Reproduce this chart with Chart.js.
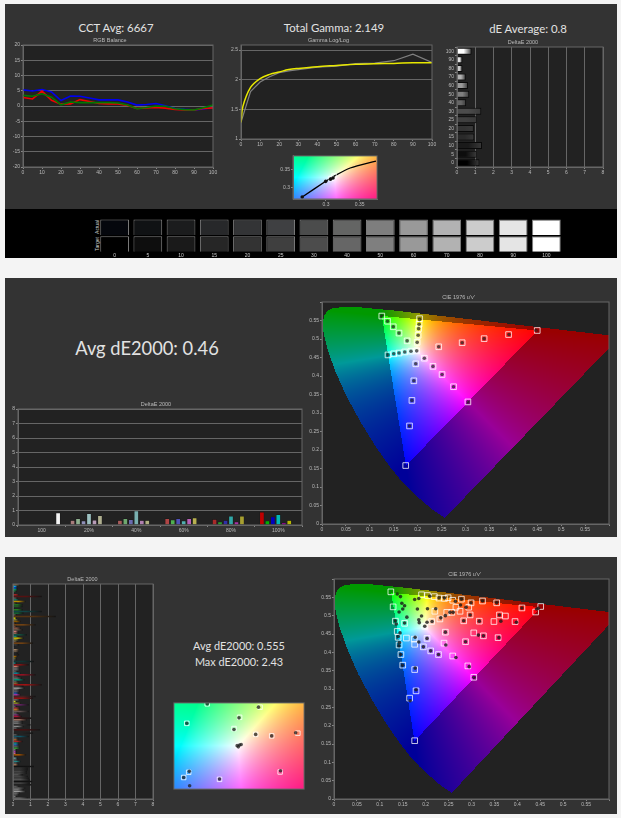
<!DOCTYPE html>
<html>
<head>
<meta charset="utf-8">
<title>Display calibration report</title>
<script src="https://cdn.jsdelivr.net/npm/chart.js@4"></script>
<style>
  html, body { margin: 0; padding: 0; background: #f4f4f4; width: 621px; height: 818px; overflow: hidden; }
  .panel { position: absolute; left: 5px; width: 612px; background: #333; }
  canvas { position: absolute; filter: blur(0.3px); }
  .big { position: absolute; transform: translate(-50%, -50%); white-space: nowrap; color: #e2e2e2; font-family: Lato, sans-serif; }
  .rowlabel { position: absolute; transform: translate(-50%, -50%) rotate(-90deg); color: #ccc; font: 5px "Liberation Sans", sans-serif; }
</style>
</head>
<body>
<div class="panel" style="top:4px;height:205px"></div>
<div class="panel" style="top:209px;height:49px;background:#000"></div>
<div class="panel" style="top:278px;height:259px"></div>
<div class="panel" style="top:557px;height:257px"></div>

<div class="big" style="left:116px;top:27px;font-size:11.4px">CCT Avg: 6667</div>
<div class="big" style="left:334px;top:27px;font-size:11.4px">Total Gamma: 2.149</div>
<div class="big" style="left:528px;top:28px;font-size:11.4px">dE Average: 0.8</div>
<div class="big" style="left:147px;top:348px;font-size:18.3px">Avg dE2000: 0.46</div>
<div class="big" style="left:239px;top:645px;font-size:10.9px">Avg dE2000: 0.555</div>
<div class="big" style="left:239px;top:661px;font-size:10.9px">Max dE2000: 2.43</div>
<div class="rowlabel" style="left:97px;top:227px">Actual</div>
<div class="rowlabel" style="left:97px;top:244px">Target</div>

<script>
// RGB balance
const rgbPct = [0, 5, 10, 15, 20, 25, 30, 35, 40, 45, 50, 55, 60, 65, 70, 75, 80, 85, 90, 95, 100];
const rgbBlue = [5.3, 4.9, 5.4, 4.6, 1.8, 3.3, 3.2, 2.6, 2.0, 2.0, 2.0, 1.3, 0.3, 0.5, 0.8, 0.1, -0.8, -1.1, -1.3, -1.0, -0.5];
const rgbRed = [2.8, 2.3, 4.9, 1.9, 0.6, 0.7, 2.1, 1.5, 0.8, 0.7, 0.7, 0.2, -0.8, -0.6, -0.5, -0.7, -1.1, -1.3, -1.3, -0.8, -0.6];
const rgbGreen = [3.5, 3.2, 4.0, 2.9, 0.4, 1.3, 1.1, 1.1, 1.1, 1.1, 1.0, 0.3, -0.9, -0.5, 0, -0.1, -0.9, -1.2, -1.3, -0.6, 0.3];

// gamma
const gammaPct = [0, 5, 10, 15, 20, 25, 30, 40, 50, 60, 70, 80, 90, 100];
const gammaMeasured = [1.28, 1.8, 1.96, 2.05, 2.12, 2.15, 2.17, 2.21, 2.23, 2.27, 2.28, 2.32, 2.43, 2.29];
const gammaTargetPct = [0, 1, 5, 10, 15, 20, 25, 30, 40, 50, 60, 70, 80, 90, 100];
const gammaTarget = [1.28, 1.55, 1.87, 2.02, 2.09, 2.13, 2.17, 2.19, 2.22, 2.24, 2.26, 2.27, 2.275, 2.285, 2.285];

// grayscale deltaE
const grayLabels = ['100', '90', '80', '70', '60', '50', '40', '30', '25', '20', '15', '10', '5', '0'];
const grayDelta = [0.8, 0.3, 0.3, 0.48, 0.6, 0.67, 0.5, 1.33, 1.07, 0.92, 0.95, 1.37, 1.07, 1.23];
const grayBarColors = ['#ffffff', '#e5e5e5', '#cccccc', '#b2b2b2', '#999999', '#808080', '#666666', '#4c4c4c', '#404040', '#333333', '#2a2a2a', '#1a1a1a', '#0d0d0d', '#000000'];

// mini xy plot, top panel
const planckX = [0.2647, 0.2996, 0.31, 0.336, 0.3743];
const planckY = [0.2737, 0.3176, 0.3298, 0.355, 0.3745];
const mini1TargetX = [0.3119, 0.3076];
const mini1TargetY = [0.3324, 0.3255];
const mini1ActualX = [0.2996, 0.2647, 0.3067, 0.3105];
const mini1ActualY = [0.3176, 0.2737, 0.3237, 0.3271];

// grayscale swatches
const swatchLabels = ['0', '5', '10', '15', '20', '25', '30', '40', '50', '60', '70', '80', '90', '100'];
const swatchActual = ['#05070d', '#101214', '#1b1c1d', '#27282a', '#333436', '#3f4042', '#4b4c4c', '#646564', '#7e7e7e', '#999999', '#b2b2b3', '#cccccc', '#e5e5e5', '#ffffff'];
const swatchTarget = ['#000000', '#0e0e0e', '#1a1a1a', '#262626', '#333333', '#3f3f3f', '#4c4c4c', '#666666', '#7f7f7f', '#999999', '#b2b2b2', '#cccccc', '#e5e5e5', '#ffffff'];

// saturation sweep deltaE
const satLabels = ['100', '20%', '40%', '60%', '80%', '100%'];
const satRed = [null, 0.33, 0.33, 0.45, 0.4, 0.9];
const satGreen = [null, 0.45, 0.45, 0.37, 0.22, 0.3];
const satBlue = [null, 0.3, 0.38, 0.45, 0.33, 0.57];
const satCyan = [null, 0.8, 0.98, 0.3, 0.62, 0.72];
const satMagenta = [null, 0.35, 0.33, 0.45, 0.22, 0.15];
const satYellow = [null, 0.65, 0.33, 0.5, 0.62, 0.32];
const satWhite = [0.85, null, null, null, null, null];
const redShades = ['#000', '#a87c7c', '#a85a5a', '#b04545', '#a82a2a', '#c00000'];
const greenShades = ['#000', '#8fb08f', '#6fa86f', '#50b050', '#28a028', '#00b000'];
const blueShades = ['#000', '#8f8fb8', '#6a6ab0', '#5050b8', '#3030a8', '#0000c0'];
const cyanShades = ['#000', '#9cc0c0', '#7ab0b0', '#50b0b0', '#30a8a8', '#00b8b8'];
const magentaShades = ['#000', '#b89cb8', '#b07fb0', '#b860b8', '#a830a8', '#a800a8'];
const yellowShades = ['#000', '#b0b090', '#b0b07f', '#b8b050', '#a8a030', '#b8b800'];

// u'v' outline of the diagram
const locusU = [0.2568, 0.2347, 0.2161, 0.1877, 0.169, 0.1441, 0.1147, 0.0828, 0.0521, 0.0282, 0.0119, 0.0035, 0.0014, 0.0046, 0.0123, 0.0231, 0.0501, 0.0792, 0.1531, 0.2623, 0.4035, 0.5203, 0.6234];
const locusV = [0.0166, 0.035, 0.0549, 0.0871, 0.1119, 0.151, 0.2044, 0.2708, 0.3427, 0.4117, 0.4698, 0.5131, 0.5432, 0.5638, 0.577, 0.5837, 0.5868, 0.5856, 0.5766, 0.5604, 0.5393, 0.5219, 0.5065];

// saturation sweep gamut points
const sweepTargetU = [0.125, 0.137, 0.149, 0.161, 0.178, 0.204, 0.203, 0.202, 0.201, 0.199, 0.138, 0.150, 0.161, 0.173, 0.186, 0.198, 0.45, 0.39, 0.339, 0.293, 0.244, 0.305, 0.275, 0.251, 0.232, 0.214, 0.175, 0.183, 0.188, 0.192, 0.196];
const sweepTargetV = [0.562, 0.548, 0.533, 0.516, 0.495, 0.555, 0.540, 0.528, 0.510, 0.491, 0.457, 0.460, 0.462, 0.465, 0.467, 0.468, 0.523, 0.512, 0.501, 0.490, 0.479, 0.330, 0.371, 0.404, 0.426, 0.448, 0.158, 0.265, 0.334, 0.387, 0.433];
const sweepActualU = [0.125, 0.137, 0.149, 0.161, 0.178, 0.204, 0.203, 0.202, 0.201, 0.199, 0.138, 0.150, 0.161, 0.173, 0.186, 0.198, 0.447, 0.391, 0.339, 0.293, 0.244, 0.305, 0.275, 0.251, 0.232, 0.214, 0.183, 0.188, 0.192, 0.196];
const sweepActualV = [0.562, 0.548, 0.533, 0.516, 0.495, 0.553, 0.540, 0.528, 0.510, 0.491, 0.457, 0.460, 0.462, 0.465, 0.467, 0.468, 0.523, 0.512, 0.501, 0.490, 0.479, 0.330, 0.371, 0.404, 0.426, 0.448, 0.265, 0.334, 0.387, 0.433];

// colorchecker deltaE rows
const checkerDelta = [0.4, 0.25, 0.25, 0.25, 0.2, 0.1, 0.35, 1.65, 0.25, 0.35, 0.72, 0.2, 0.55, 0.55, 0.1, 0.55, 1.65, 0.6, 0.2, 2.45, 0.2, 0.3, 0.45, 0.15, 1.3, 0.2, 0.45, 0.55, 0.3, 0.3, 0.8, 0.3, 0.6, 0.35, 0.25, 1.15, 0.35, 0.1, 0.1, 0.35, 0.35, 0.3, 0.35, 0.25, 0.2, 0.2, 1.2, 0.2, 0.9, 0.4, 0.4, 0.4, 0.25, 0.45, 1.3, 0.35, 0.5, 0.65, 0.3, 0.35, 1.65, 0.6, 0.65, 0.4, 0.4, 0.35, 0.45, 1.3, 1.15, 0.4, 0.2, 0.45, 0.9, 0.2, 0.4, 0.4, 0.9, 0.3, 0.4, 0.5, 1.05, 0.8, 0.55, 0.55, 1.0, 0.6, 0.3, 1.55, 0.1, 1.15, 0.3, 0.9, 0.3, 0.3, 0.55, 0.35, 0.35, 0.4, 0.4, 0.2, 0.2, 0.2, 0.75, 0.1, 0.25, 0.3, 0.45, 0.3, 0.3, 1.2, 0.85, 0.85, 0.8, 0.8, 0.55, 0.85, 0.9, 0.95, 1.1, 0.95, 1.05, 0.35, 0.7, 0.6, 0.75, 0.4, 0.35, 0.2, 0.85];
const checkerColors = ['#776644', '#00aaff', '#0055cc', '#00aa55', '#225533', '#333333', '#aa2222', '#551111', '#555555', '#117766', '#bb8800', '#444422', '#227722', '#225522', '#333333', '#228822', '#114444', '#116633', '#555544', '#553311', '#cccc00', '#888833', '#885500', '#443322', '#774411', '#664433', '#885544', '#665544', '#cc7777', '#996655', '#115544', '#118877', '#ccbb00', '#888833', '#665544', '#774411', '#333333', '#333333', '#444444', '#aa8866', '#665544', '#222222', '#222222', '#aa6600', '#666622', '#444444', '#113333', '#117777', '#881111', '#cc7766', '#666666', '#666666', '#555555', '#118899', '#991122', '#444444', '#666666', '#009977', '#555555', '#886633', '#aa1111', '#333333', '#999999', '#666666', '#555566', '#2255aa', '#aa33aa', '#442222', '#991111', '#666666', '#cccc22', '#888822', '#662266', '#555555', '#aa3333', '#bb7722', '#665555', '#555555', '#773377', '#aa1133', '#331111', '#aa7766', '#666666', '#777777', '#333333', '#888888', '#555555', '#441111', '#555555', '#222222', '#555555', '#115566', '#555555', '#aa6622', '#aa2222', '#118888', '#2266bb', '#555555', '#339933', '#777777', '#aa33aa', '#cc6699', '#aa5500', '#555555', '#669999', '#555555', '#228888', '#555555', '#aa7755', '#111111', '#333333', '#333333', '#444444', '#444444', '#555555', '#444444', '#444444', '#555555', '#111111', '#444444', '#222222', '#555555', '#666666', '#777777', '#999999', '#666666', '#555555', '#777777', '#666666'];

// colorchecker gamut points
const checkerTargetU = [0.124, 0.129, 0.134, 0.138, 0.140, 0.142, 0.146, 0.150, 0.176, 0.179, 0.165, 0.176, 0.191, 0.204, 0.219, 0.229, 0.241, 0.249, 0.259, 0.278, 0.299, 0.324, 0.355, 0.410, 0.451, 0.440, 0.374, 0.361, 0.297, 0.275, 0.266, 0.294, 0.220, 0.154, 0.158, 0.175, 0.176, 0.195, 0.211, 0.228, 0.259, 0.292, 0.305, 0.240, 0.203, 0.243, 0.287, 0.305, 0.326, 0.358, 0.349, 0.395, 0.317, 0.283, 0.213, 0.231, 0.246, 0.257, 0.198];
const checkerTargetV = [0.565, 0.524, 0.485, 0.457, 0.441, 0.420, 0.394, 0.365, 0.353, 0.295, 0.275, 0.159, 0.557, 0.555, 0.552, 0.548, 0.547, 0.549, 0.542, 0.545, 0.535, 0.540, 0.535, 0.521, 0.525, 0.510, 0.499, 0.502, 0.502, 0.512, 0.523, 0.523, 0.512, 0.479, 0.439, 0.436, 0.422, 0.415, 0.404, 0.394, 0.390, 0.363, 0.332, 0.425, 0.438, 0.455, 0.429, 0.453, 0.445, 0.440, 0.484, 0.484, 0.485, 0.486, 0.484, 0.491, 0.509, 0.509, 0.471];
const checkerActualU = [0.138, 0.145, 0.148, 0.154, 0.150, 0.142, 0.134, 0.136, 0.144, 0.140, 0.143, 0.142, 0.146, 0.150, 0.177, 0.179, 0.166, 0.182, 0.176, 0.185, 0.204, 0.209, 0.229, 0.241, 0.265, 0.278, 0.299, 0.276, 0.288, 0.324, 0.355, 0.410, 0.442, 0.446, 0.361, 0.364, 0.398, 0.317, 0.283, 0.297, 0.315, 0.326, 0.360, 0.287, 0.244, 0.266, 0.295, 0.305, 0.185, 0.211, 0.228, 0.195, 0.203, 0.177, 0.243, 0.214, 0.203, 0.191, 0.185, 0.186, 0.154, 0.159, 0.233, 0.243, 0.253, 0.260, 0.222, 0.198];
const checkerActualV = [0.559, 0.552, 0.534, 0.527, 0.518, 0.510, 0.486, 0.477, 0.453, 0.443, 0.427, 0.418, 0.394, 0.365, 0.357, 0.298, 0.268, 0.518, 0.544, 0.547, 0.519, 0.553, 0.548, 0.548, 0.539, 0.545, 0.535, 0.529, 0.523, 0.540, 0.535, 0.521, 0.518, 0.520, 0.502, 0.485, 0.482, 0.485, 0.486, 0.502, 0.447, 0.445, 0.440, 0.429, 0.420, 0.386, 0.361, 0.332, 0.428, 0.404, 0.394, 0.415, 0.438, 0.441, 0.455, 0.484, 0.482, 0.499, 0.489, 0.481, 0.480, 0.496, 0.494, 0.500, 0.509, 0.509, 0.519, 0.471];

// mini xy plot, bottom panel
const mini3TargetX = [0.2634, 0.283, 0.3337, 0.3141, 0.3087, 0.3295, 0.3449, 0.37, 0.353, 0.2948, 0.2652, 0.2604, 0.3122];
const mini3TargetY = [0.3603, 0.3877, 0.383, 0.3688, 0.353, 0.3448, 0.3427, 0.3465, 0.292, 0.2817, 0.2916, 0.2843, 0.329];
const mini3ActualX = [0.2634, 0.283, 0.3322, 0.3135, 0.3087, 0.3295, 0.3449, 0.3679, 0.3534, 0.2948, 0.2658, 0.2604, 0.2661, 0.3117, 0.3141, 0.3156, 0.3129];
const mini3ActualY = [0.3603, 0.3877, 0.383, 0.368, 0.3517, 0.3448, 0.3427, 0.347, 0.2937, 0.2822, 0.2929, 0.2843, 0.2727, 0.329, 0.3298, 0.3307, 0.3273];

const TICK_FONT = { family: '"Liberation Sans", sans-serif', size: 5 };
const TICK_COLOR = '#bbbbbb';
const LINE_COLOR = '#666666';
const TITLE_SIZE = 5.5;

Chart.defaults.animation = false;
Chart.defaults.responsive = false;
Chart.defaults.plugins.legend.display = false;
Chart.defaults.plugins.tooltip.enabled = false;

// plot background and frame, same for every chart
Chart.register({
  id: 'plotFrame',
  beforeDraw(chart) {
    const a = chart.chartArea, c = chart.ctx;
    c.save();
    c.fillStyle = '#222222';
    c.fillRect(a.left, a.top, a.width, a.height);
    c.restore();
  },
  afterDatasetsDraw(chart) {
    const a = chart.chartArea, c = chart.ctx;
    c.save();
    c.strokeStyle = LINE_COLOR;
    c.lineWidth = 1;
    c.strokeRect(a.left, a.top, a.width, a.height);
    c.restore();
  }
});

const zip = (xs, ys) => xs.map((x, i) => ({ x, y: ys[i] }));
const trim = v => String(+Number(v).toFixed(2));

// canvas placed so that the plot area lands on the rectangle l,t,r,b
function makeChart(rect, m, config) {
  const el = document.createElement('canvas');
  el.width = rect.r - rect.l + m.l + m.r;
  el.height = rect.b - rect.t + m.t + m.b;
  el.style.left = (rect.l - m.l) + 'px';
  el.style.top = (rect.t - m.t) + 'px';
  document.body.appendChild(el);
  const opts = config.options;
  const titleH = opts.plugins && opts.plugins.title ? TITLE_SIZE * 1.2 + 1 : 0;
  opts.layout = { padding: { left: 0, right: m.r, top: m.t - titleH, bottom: 0 } };
  new Chart(el.getContext('2d'), config);
}

function titleOf(text) {
  return { display: true, text, color: '#bbbbbb', padding: { top: 0, bottom: 1 }, font: { family: TICK_FONT.family, size: TITLE_SIZE, weight: 'normal' } };
}

function axis(size, extra) {
  const horizontal = extra.horizontal;
  delete extra.horizontal;
  return Object.assign({
    afterFit(s) {
      if (horizontal) { s.height = size; s.paddingLeft = 0; s.paddingRight = 0; }
      else { s.width = size; s.paddingTop = 0; s.paddingBottom = 0; }
    },
    border: { color: LINE_COLOR },
    grid: { color: LINE_COLOR, drawOnChartArea: false, tickLength: 2, tickColor: '#888888' },
    ticks: { color: TICK_COLOR, font: TICK_FONT, padding: 1, autoSkip: false, maxRotation: 0 }
  }, extra);
}

function gridLines() {
  return { color: LINE_COLOR, lineWidth: 1, drawOnChartArea: true, tickLength: 2, tickColor: '#888888' };
}

function ticksWith(extra) {
  return Object.assign({ color: TICK_COLOR, font: TICK_FONT, padding: 1, autoSkip: false, maxRotation: 0 }, extra);
}

// xy chromaticity to a display colour, out of gamut gets dimmed
function chromaColor(x, y, boost, dim, power) {
  if (boost !== 1) {
    x = 0.3127 + (x - 0.3127) * boost;
    y = 0.329 + (y - 0.329) * boost;
  }
  const X = x / y, Z = (1 - x - y) / y;
  const r = 3.2406 * X - 1.5372 - 0.4986 * Z;
  const g = -0.9689 * X + 1.8758 + 0.0415 * Z;
  const b = 0.0557 * X - 0.204 + 1.057 * Z;
  const out = r < 0 || g < 0 || b < 0;
  const rr = Math.max(r, 0), gg = Math.max(g, 0), bb = Math.max(b, 0);
  const top = Math.max(rr, gg, bb) || 1;
  const k = out && dim ? 0.6 : 1;
  return [rr, gg, bb].map(c => 255 * k * Math.pow(c / top, power));
}

function insidePolygon(px, py, xs, ys) {
  let hit = false;
  for (let i = 0, j = xs.length - 1; i < xs.length; j = i++) {
    if ((ys[i] > py) !== (ys[j] > py) && px < (xs[j] - xs[i]) * (py - ys[i]) / (ys[j] - ys[i]) + xs[i]) hit = !hit;
  }
  return hit;
}

// paints the colour background per pixel through the chart's own scales
function colorField(kind) {
  return {
    id: 'colorField' + kind,
    beforeDraw(chart) {
      const a = chart.chartArea, sx = chart.scales.x, sy = chart.scales.y;
      const w = Math.round(a.width), h = Math.round(a.height);
      const off = document.createElement('canvas');
      off.width = w; off.height = h;
      const oc = off.getContext('2d');
      const img = oc.createImageData(w, h);
      for (let j = 0; j < h; j++) {
        const vy = sy.getValueForPixel(a.top + j + 0.5);
        for (let i = 0; i < w; i++) {
          const ux = sx.getValueForPixel(a.left + i + 0.5);
          let rgb;
          if (kind === 'uv') {
            if (!insidePolygon(ux, vy, locusU, locusV)) continue;
            const d = 6 * ux - 16 * vy + 12;
            rgb = chromaColor(9 * ux / d, 4 * vy / d, 1, true, 0.85);
          } else {
            rgb = chromaColor(ux, vy, 1.6, false, 0.8);
          }
          const p = (j * w + i) * 4;
          img.data[p] = rgb[0]; img.data[p + 1] = rgb[1]; img.data[p + 2] = rgb[2]; img.data[p + 3] = 255;
        }
      }
      oc.putImageData(img, 0, 0);
      chart.ctx.drawImage(off, a.left, a.top);
    }
  };
}

// bar colour holding, then fading towards its far end along the value axis
function fadeBar(colors, values, endColor) {
  return ctx => {
    const i = ctx.dataIndex;
    if (i === undefined || !ctx.chart.chartArea) return colors[0];
    const sx = ctx.chart.scales.x;
    const g = ctx.chart.ctx.createLinearGradient(sx.getPixelForValue(0), 0, sx.getPixelForValue(values[i]), 0);
    g.addColorStop(0, colors[i]);
    g.addColorStop(0.45, colors[i]);
    g.addColorStop(1, endColor);
    return g;
  };
}

function targetSet(data, radius) {
  return { data, showLine: false, pointStyle: 'rect', pointRadius: radius, pointBorderWidth: 0.9, pointBorderColor: 'rgba(255,255,255,0.85)', pointBackgroundColor: 'rgba(0,0,0,0)' };
}
function actualSet(data, radius, fill) {
  return { data, showLine: false, pointStyle: 'circle', pointRadius: radius, pointBorderWidth: 0, pointBackgroundColor: fill };
}

// top row: RGB balance
makeChart({ l: 23, t: 45, r: 213, b: 167 }, { l: 16, t: 10, r: 6, b: 10 }, {
  type: 'scatter',
  data: { datasets: [
    { data: zip(rgbPct, rgbGreen), showLine: true, borderColor: '#007a00', borderWidth: 1.6, pointRadius: 0 },
    { data: zip(rgbPct, rgbRed), showLine: true, borderColor: '#f00000', borderWidth: 1.6, pointRadius: 0 },
    { data: zip(rgbPct, rgbBlue), showLine: true, borderColor: '#0000f0', borderWidth: 1.6, pointRadius: 0 }
  ] },
  options: {
    plugins: { title: titleOf('RGB Balance') },
    scales: {
      x: axis(10, { horizontal: true, min: 0, max: 100, ticks: ticksWith({ stepSize: 10 }) }),
      y: axis(16, { min: -20, max: 20, grid: gridLines(), ticks: ticksWith({ stepSize: 5 }) })
    }
  }
});

// top row: gamma
makeChart({ l: 241, t: 45, r: 432, b: 139 }, { l: 16, t: 10, r: 6, b: 10 }, {
  type: 'scatter',
  data: { datasets: [
    { data: zip(gammaTargetPct, gammaTarget), showLine: true, borderColor: '#e8e800', borderWidth: 1.5, pointRadius: 0, tension: 0.35 },
    { data: zip(gammaPct, gammaMeasured), showLine: true, borderColor: '#808080', borderWidth: 1.2, pointRadius: 0 }
  ] },
  options: {
    plugins: { title: titleOf('Gamma Log/Log') },
    scales: {
      x: axis(10, { horizontal: true, min: 0, max: 100, ticks: ticksWith({ stepSize: 10 }) }),
      y: axis(16, { min: 1, max: 2.585, grid: gridLines(), ticks: ticksWith({ stepSize: 0.5, includeBounds: false, callback: trim }) })
    }
  }
});

// top row: grayscale deltaE
makeChart({ l: 457, t: 47, r: 603, b: 167 }, { l: 14, t: 10, r: 6, b: 10 }, {
  type: 'bar',
  data: { labels: grayLabels, datasets: [
    { data: grayDelta, backgroundColor: fadeBar(grayBarColors, grayDelta, '#3a3a3a'), borderColor: '#0a0a0a', borderWidth: 1, barPercentage: 0.82, categoryPercentage: 1 }
  ] },
  options: {
    indexAxis: 'y',
    plugins: { title: titleOf('DeltaE 2000') },
    scales: {
      x: axis(10, { horizontal: true, min: 0, max: 8, grid: gridLines(), ticks: ticksWith({ stepSize: 1 }) }),
      y: axis(14, {})
    }
  }
});

// top row: small xy plot
makeChart({ l: 293, t: 153, r: 380, b: 199 }, { l: 16, t: 2, r: 2, b: 9 }, {
  type: 'scatter',
  plugins: [colorField('xy')],
  data: { datasets: [
    actualSet(zip(mini1ActualX, mini1ActualY), 1.8, '#111111'),
    targetSet(zip(mini1TargetX, mini1TargetY), 3.2),
    { data: zip(planckX, planckY), showLine: true, borderColor: '#000000', borderWidth: 1.3, pointRadius: 0, tension: 0.3 }
  ] },
  options: {
    scales: {
      x: axis(9, { horizontal: true, min: 0.251, max: 0.376, ticks: ticksWith({ stepSize: 0.05, includeBounds: false, callback: trim }) }),
      y: axis(16, { min: 0.268, max: 0.389, ticks: ticksWith({ stepSize: 0.05, includeBounds: false, callback: trim }) })
    }
  }
});

// grayscale swatches, two rows of floating bars
makeChart({ l: 98, t: 219, r: 563, b: 252 }, { l: 1, t: 1, r: 1, b: 8 }, {
  type: 'bar',
  data: { labels: swatchLabels, datasets: [
    { data: swatchActual.map(() => [1.03, 1.97]), backgroundColor: swatchActual, borderColor: '#808080', borderWidth: 1, barPercentage: 0.865, categoryPercentage: 1, grouped: false },
    { data: swatchTarget.map(() => [0.02, 0.96]), backgroundColor: swatchTarget, borderColor: '#808080', borderWidth: 1, barPercentage: 0.865, categoryPercentage: 1, grouped: false }
  ] },
  options: {
    plugins: { plotFrame: false },
    scales: {
      x: axis(8, { horizontal: true, border: { color: '#000000' }, grid: { color: '#000000', drawOnChartArea: false, tickLength: 1, tickColor: '#000000' }, ticks: ticksWith({ color: '#cccccc', padding: 0 }) }),
      y: { display: false, min: 0, max: 2, afterFit(s) { s.width = 1; s.paddingTop = 0; s.paddingBottom = 0; } }
    }
  }
});

// middle row: saturation sweep deltaE
function satSet(data, colors) {
  return { data, backgroundColor: colors, borderColor: 'rgba(10,10,10,0.6)', borderWidth: 0.5, barPercentage: 0.86, categoryPercentage: 0.81 };
}
makeChart({ l: 18, t: 409, r: 302, b: 525 }, { l: 8, t: 10, r: 6, b: 10 }, {
  type: 'bar',
  data: { labels: satLabels, datasets: [
    satSet(satRed, redShades),
    satSet(satGreen, greenShades),
    satSet(satBlue, blueShades),
    satSet(satCyan, cyanShades),
    satSet(satMagenta, magentaShades),
    satSet(satYellow, yellowShades),
    satSet(satWhite, '#f4f4f4')
  ] },
  options: {
    plugins: { title: titleOf('DeltaE 2000') },
    scales: {
      x: axis(10, { horizontal: true }),
      y: axis(8, { min: 0, max: 8, grid: gridLines(), ticks: ticksWith({ stepSize: 1 }) })
    }
  }
});

function gamutScales(xFit, yFit) {
  const hideTop = v => (v > 0.58 ? '' : trim(v));
  return {
    x: axis(xFit, { horizontal: true, min: 0, max: 0.6, ticks: ticksWith({ stepSize: 0.05, callback: hideTop }) }),
    y: axis(yFit, { min: 0, max: 0.6, ticks: ticksWith({ stepSize: 0.05, callback: hideTop }) })
  };
}

// middle row: gamut
makeChart({ l: 322, t: 302, r: 609, b: 524 }, { l: 14, t: 10, r: 6, b: 10 }, {
  type: 'scatter',
  plugins: [colorField('uv')],
  data: { datasets: [
    actualSet(zip(sweepActualU, sweepActualV), 1.8, 'rgba(30,30,30,0.7)'),
    targetSet(zip(sweepTargetU, sweepTargetV), 4)
  ] },
  options: {
    plugins: { title: titleOf("CIE 1976 u'v'") },
    scales: gamutScales(10, 14)
  }
});

// bottom row: colorchecker deltaE
makeChart({ l: 13, t: 584, r: 153, b: 799 }, { l: 1, t: 10, r: 6, b: 10 }, {
  type: 'bar',
  data: { labels: checkerDelta.map((_, i) => i + 1), datasets: [
    { data: checkerDelta, backgroundColor: fadeBar(checkerColors, checkerDelta, '#141414'), barPercentage: 0.9, categoryPercentage: 1 }
  ] },
  options: {
    indexAxis: 'y',
    plugins: { title: titleOf('DeltaE 2000') },
    scales: {
      x: axis(10, { horizontal: true, min: 0, max: 8, grid: gridLines(), ticks: ticksWith({ stepSize: 1 }) }),
      y: { display: false, afterFit(s) { s.width = 1; s.paddingTop = 0; s.paddingBottom = 0; } }
    }
  }
});

// bottom row: small xy plot, no tick labels
makeChart({ l: 170, t: 699, r: 308, b: 793 }, { l: 1, t: 1, r: 1, b: 1 }, {
  type: 'scatter',
  plugins: [colorField('xy')],
  data: { datasets: [
    actualSet(zip(mini3ActualX, mini3ActualY), 1.8, 'rgba(30,30,30,0.75)'),
    targetSet(zip(mini3TargetX, mini3TargetY), 3.2)
  ] },
  options: {
    scales: {
      x: { display: false, min: 0.251, max: 0.376, afterFit(s) { s.height = 1; s.paddingLeft = 0; s.paddingRight = 0; } },
      y: { display: false, min: 0.268, max: 0.389, afterFit(s) { s.width = 1; s.paddingTop = 0; s.paddingBottom = 0; } }
    }
  }
});

// bottom row: gamut
makeChart({ l: 334, t: 579, r: 609, b: 799 }, { l: 14, t: 9, r: 6, b: 10 }, {
  type: 'scatter',
  plugins: [colorField('uv')],
  data: { datasets: [
    actualSet(zip(checkerActualU, checkerActualV), 1.8, 'rgba(25,25,25,0.8)'),
    targetSet(zip(checkerTargetU, checkerTargetV), 4)
  ] },
  options: {
    plugins: { title: titleOf("CIE 1976 u'v'") },
    scales: gamutScales(10, 14)
  }
});
</script>
</body>
</html>
